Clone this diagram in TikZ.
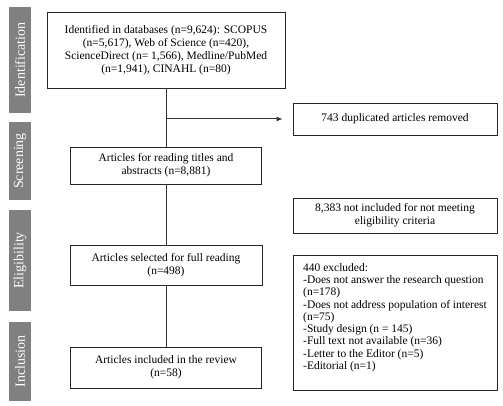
\documentclass[tikz,border=0pt]{standalone}
\usepackage{fontspec}
\setmainfont{Liberation Serif}
\usetikzlibrary{arrows.meta}
\begin{document}
\begin{tikzpicture}[x=1pt,y=-1pt,
 box/.style={draw=black!85, line width=0.8pt, align=center, inner sep=0pt, font=\fontsize{11.5}{13}\selectfont},
 bar/.style={fill=black!50, text=white, inner sep=0pt, rotate=90, font=\fontsize{14}{16}\selectfont},
 link/.style={draw=black!80, line width=1pt}]
\fill[white] (0,0) rectangle (503,406);
\useasboundingbox (0,0) rectangle (503,406);
% phase bars
\node[bar, minimum width=106, minimum height=22] (b1) at (20,60) {Identification};
\node[bar, minimum width=78, minimum height=22] (b2) at (20,161) {Screening};
\node[bar, minimum width=101, minimum height=22] (b3) at (20,260.5) {Eligibility};
\node[bar, minimum width=79, minimum height=22] (b4) at (20,361.5) {Inclusion};
% boxes
\node[box, minimum width=238, minimum height=76] (id) at (166,50) {Identified in databases (n=9,624): SCOPUS\\(n=5,617), Web of Science (n=420),\\ScienceDirect (n= 1,566), Medline/PubMed\\(n=1,941), CINAHL (n=80)};
\node[box, minimum width=204, minimum height=32] (dup) at (395,119) {743 duplicated articles removed};
\node[box, minimum width=191, minimum height=37] (scr) at (166,165.5) {Articles for reading titles and\\abstracts (n=8,881)};
\node[box, minimum width=204, minimum height=35] (nel) at (395,215.5) {8,383 not included for not meeting\\eligibility criteria};
\node[box, minimum width=192, minimum height=40] (full) at (166,265) {Articles selected for full reading\\(n=498)};
\node[box, minimum width=204, minimum height=135, align=left, font=\fontsize{11.5}{12.3}\selectfont] (exc) at (395,322.5) {440 excluded:\\-Does not answer the research question\\(n=178)\\-Does not address population of interest\\(n=75)\\-Study design (n = 145)\\-Full text not available (n=36)\\-Letter to the Editor (n=5)\\-Editorial (n=1)\\\mbox{}};
\node[box, minimum width=191, minimum height=41] (inc) at (166,367.5) {Articles included in the review\\(n=58)};
% connectors
\draw[link] (id.south) -- (scr.north);
\draw[link] (scr.south) -- (full.north);
\draw[link] (full.south) -- (inc.north);
\coordinate (j) at (id.south |- dup.west);
\draw[link, -{Latex[length=6pt,width=5pt]}, shorten >=10pt] (j) -- (dup.west);
\end{tikzpicture}
\end{document}
